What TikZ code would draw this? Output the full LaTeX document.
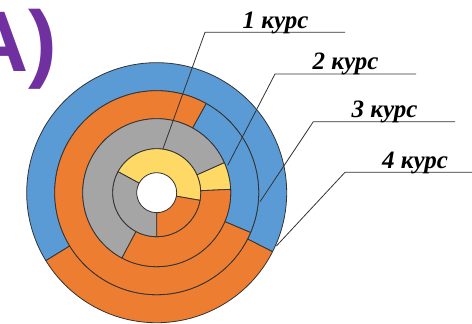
\documentclass[tikz,border=0pt]{standalone}
\usepackage{xcolor}
\usepackage{tikz}
\usepackage{fontspec}
\usetikzlibrary{positioning, calc}

\newfontfamily\labelfont{Liberation Serif}
\newfontfamily\letterfont{Liberation Sans}

\definecolor{cblue}{HTML}{5B9BD5}
\definecolor{corange}{HTML}{ED7D31}
\definecolor{cgray}{HTML}{A5A5A5}
\definecolor{cyellow}{HTML}{FFD966}
\definecolor{cpurple}{HTML}{7030A0}
\definecolor{cline}{HTML}{333333}

\tikzset{
    seg/.style={draw=cline, line width=0.8pt, line join=round},
    leader/.style={draw=cline, line width=0.8pt},
    kurs/.style={anchor=base, font=\labelfont\bfseries\itshape\fontsize{25}{29}\selectfont, inner sep=0pt}
}

\begin{document}
\begin{tikzpicture}[x=1pt, y=1pt]
    \useasboundingbox (-156.7,-131.3) rectangle (315.3,192.7);

    % Ring 4
    \filldraw[seg, fill=cblue] (-27:102) arc[start angle=-27, end angle=211.5, radius=102] -- (211.5:130) arc[start angle=211.5, end angle=-27, radius=130] -- cycle;
    \filldraw[seg, fill=corange] (211.5:102) arc[start angle=211.5, end angle=333, radius=102] -- (333:130) arc[start angle=333, end angle=211.5, radius=130] -- cycle;

    % Ring 3
    \filldraw[seg, fill=cblue] (-23:74) arc[start angle=-23, end angle=61, radius=74] -- (61:102) arc[start angle=61, end angle=-23, radius=102] -- cycle;
    \filldraw[seg, fill=corange] (61:74) arc[start angle=61, end angle=337, radius=74] -- (337:102) arc[start angle=337, end angle=61, radius=102] -- cycle;

    % Ring 2
    \filldraw[seg, fill=cyellow] (2.6:44) arc[start angle=2.6, end angle=24, radius=44] -- (24:74) arc[start angle=24, end angle=2.6, radius=74] -- cycle;
    \filldraw[seg, fill=cgray] (24:44) arc[start angle=24, end angle=242, radius=44] -- (242:74) arc[start angle=242, end angle=24, radius=74] -- cycle;
    \filldraw[seg, fill=corange] (242:44) arc[start angle=242, end angle=362.6, radius=44] -- (362.6:74) arc[start angle=362.6, end angle=242, radius=74] -- cycle;

    % Ring 1
    \filldraw[seg, fill=cyellow] (-10:20) arc[start angle=-10, end angle=151.5, radius=20] -- (151.5:44) arc[start angle=151.5, end angle=-10, radius=44] -- cycle;
    \filldraw[seg, fill=cgray] (151.5:20) arc[start angle=151.5, end angle=270, radius=20] -- (270:44) arc[start angle=270, end angle=151.5, radius=44] -- cycle;
    \filldraw[seg, fill=corange] (270:20) arc[start angle=270, end angle=350, radius=20] -- (350:44) arc[start angle=350, end angle=270, radius=44] -- cycle;

    % Leader points
    \coordinate (s1) at (82:44);
    \coordinate (b1) at (48.3,160.4);
    \coordinate (e1) at (188.3,160.4);
    \coordinate (s2) at (21:76);
    \coordinate (b2) at (118.3,118.7);
    \coordinate (e2) at (259.3,118.7);
    \coordinate (s3) at (-5:103.7);
    \coordinate (b3) at (156.6,71);
    \coordinate (e3) at (298.3,71);
    \coordinate (s4) at (-24:131);
    \coordinate (b4) at (188.3,20.4);
    \coordinate (e4) at (320,20.4);

    \draw[leader] (s1) -- (b1) -- (e1);
    \draw[leader] (s2) -- (b2) -- (e2);
    \draw[leader] (s3) -- (b3) -- (e3);
    \draw[leader] (s4) -- (b4) -- (e4);

    % Labels
    \node[kurs] (k1) at (118.8,164.6) {1 курс};
    \node[kurs] (k2) at (188.8,122.9) {2 курс};
    \node[kurs] (k3) at (227.8,75.2) {3 курс};
    \node[kurs] (k4) at (258.3,24.6) {4 курс};

    % Letter
    \node[anchor=base west, inner sep=0pt, text=cpurple, font=\letterfont\bfseries\fontsize{86}{90}\selectfont] (letter) at (-190.7,120.7) {A)};
\end{tikzpicture}
\end{document}
